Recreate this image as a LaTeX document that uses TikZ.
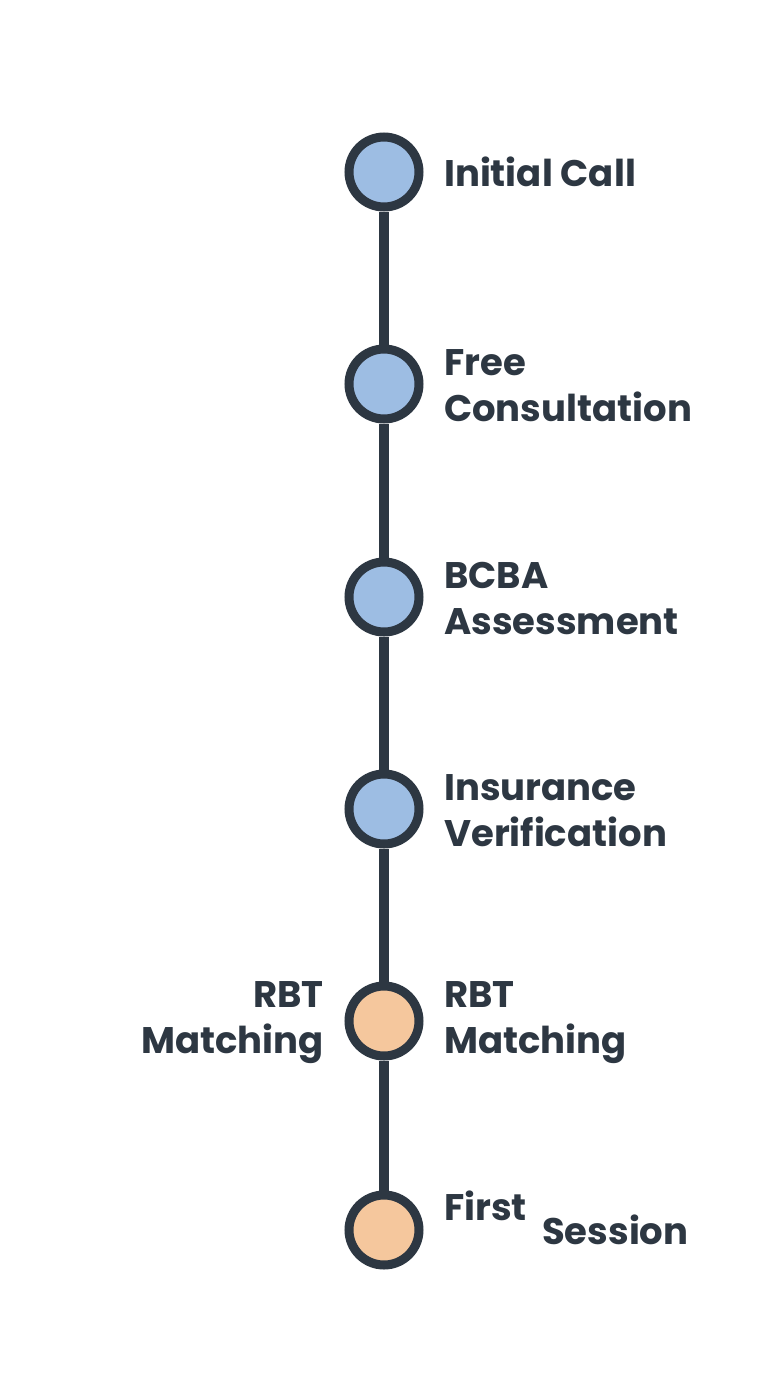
\documentclass[tikz,border=0pt]{standalone}
\usepackage{fontspec}
\setmainfont{Poppins}
\definecolor{ink}{HTML}{2D3742}
\definecolor{blu}{HTML}{9DBDE3}
\definecolor{org}{HTML}{F5C79D}
\begin{document}
\begin{tikzpicture}[x=1pt,y=-1pt,
  stage/.style={circle,draw=ink,line width=9pt,minimum size=70pt,inner sep=0pt},
  lbl/.style={text=ink,font=\fontsize{37}{46}\selectfont\bfseries,inner sep=0pt,align=left},
  link/.style={draw=ink,line width=10pt}]
\fill[white] (0,0) rectangle (768,1376);
\node[stage,fill=blu] (s1) at (384,172) {};
\node[stage,fill=blu] (s2) at (384,384) {};
\node[stage,fill=blu] (s3) at (384,597) {};
\node[stage,fill=blu] (s4) at (384,809) {};
\node[stage,fill=org] (s5) at (384,1021) {};
\node[stage,fill=org] (s6) at (384,1230) {};
\draw[link] (s1) -- (s2); \draw[link] (s2) -- (s3); \draw[link] (s3) -- (s4);
\draw[link] (s4) -- (s5); \draw[link] (s5) -- (s6);
\node[lbl,anchor=west] (t1) at (444,172) {Initial Call};
\node[lbl,anchor=west] (t2) at (444,386) {Free\\Consultation};
\node[lbl,anchor=west] (t3) at (444,599) {BCBA\\Assessment};
\node[lbl,anchor=west] (t4) at (444,811) {Insurance\\Verification};
\node[lbl,anchor=west] (t5) at (444,1023) {RBT\\Matching};
\node[lbl,anchor=east,align=right] (t5b) at (324,1023) {RBT\\Matching};
\node[lbl,anchor=west] (t6a) at (444,1206) {First};
\node[lbl,anchor=west] (t6b) at (542,1230) {Session};
\end{tikzpicture}
\end{document}
